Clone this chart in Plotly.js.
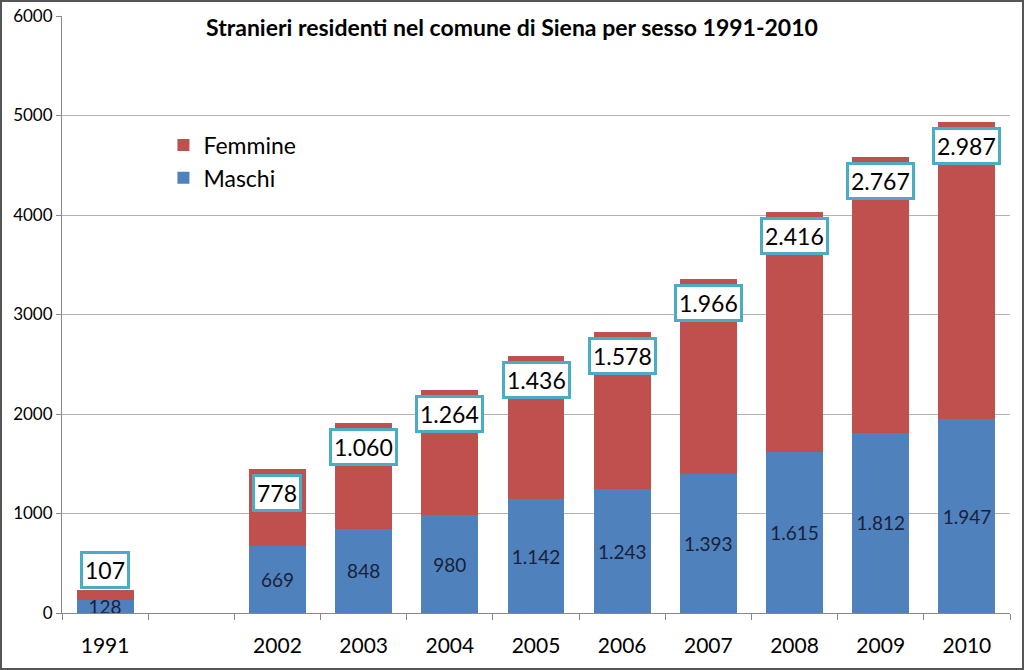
<!DOCTYPE html>
<html><head><meta charset="utf-8">
<script src="https://cdn.plot.ly/plotly-3.0.1.min.js"></script>
<style>
html,body{margin:0;padding:0;background:#fff;}
#wrap{position:relative;width:1024px;height:670px;}
#chart{width:1024px;height:670px;}
#frame{position:absolute;left:0;top:0;width:1020px;height:666px;border:2px solid #555;pointer-events:none;}
</style></head>
<body><div id="wrap"><div id="chart"></div><div id="frame"></div></div>
<script>
const years = ['1991', '\u00a0', '2002', '2003', '2004', '2005', '2006', '2007', '2008', '2009', '2010'];
const maschi = [128, 0, 669, 848, 980, 1142, 1243, 1393, 1615, 1812, 1947];
const femmine = [107, 0, 778, 1060, 1264, 1436, 1578, 1966, 2416, 2767, 2987];
const yTicks = [0, 1000, 2000, 3000, 4000, 5000, 6000];

function fmt(v){ return String(v).replace(/\B(?=(\d{3})+(?!\d))/g, '.'); }

const font = 'Lato, "Open Sans", sans-serif';

const maschiText = maschi.map(v => v ? fmt(v) : '');

const traces = [
  {type:'bar', name:'Maschi', legendgroup:'m', x:years, y:maschi, marker:{color:'#4f81bd'},
   text:maschiText, textposition:'inside', insidetextanchor:'middle',
   constraintext:'none', textfont:{family:font, size:19, color:'#1a1f3a'}, hoverinfo:'none'},
  {type:'bar', name:'Femmine', legendgroup:'f', x:years, y:femmine, marker:{color:'#c0504d'},
   hoverinfo:'none', textposition:'none'}
];

const annotations = [];
years.forEach((yr, i) => {
  if (!femmine[i]) return;
  const total = maschi[i] + femmine[i];
  const small = total < 500;
  annotations.push({
    x: i, y: total, xref:'x', yref:'y', text: fmt(femmine[i]), showarrow:false,
    yanchor: small ? 'bottom' : 'top', yshift: small ? 1 : -5,
    font:{family:font, size:23, color:'#000'},
    bgcolor:'#fff', bordercolor:'#4bacc6', borderwidth:3, borderpad:2
  });
});

const layout = {
  width:1024, height:670,
  margin:{l:62, r:14, t:16, b:57},
  paper_bgcolor:'#fff', plot_bgcolor:'#fff',
  barmode:'stack', bargap:0.34,
  showlegend:true,
  legend:{x:0.107, y:0.82, xanchor:'left', yanchor:'top', font:{family:font, size:23, color:'#000'},
          bgcolor:'rgba(0,0,0,0)', tracegroupgap:13, traceorder:'reversed'},
  title:{text:'<b>Stranieri residenti nel comune di Siena per sesso 1991-2010</b>',
         x:0.5, xanchor:'center', xref:'container', y:0.958, yanchor:'middle',
         font:{family:font, size:23, color:'#000'}},
  xaxis:{type:'category', categoryorder:'array', categoryarray:years,
         showline:true, linecolor:'#888', linewidth:1, ticks:'outside', ticklen:6, tickcolor:'#888',
         tickson:'boundaries', showgrid:false, ticklabelstandoff:14,
         tickfont:{family:font, size:21, color:'#000'}},
  yaxis:{range:[0,6000], tickvals:yTicks, ticktext:yTicks.map(String),
         showline:true, linecolor:'#888', linewidth:1, ticks:'outside', ticklen:5, tickcolor:'#888',
         showgrid:true, gridcolor:'#b3b3b3', gridwidth:1, zeroline:false,
         tickfont:{family:font, size:17, color:'#000'}},
  annotations: annotations
};

Plotly.newPlot('chart', traces, layout, {displayModeBar:false, staticPlot:true});
</script></body></html>
